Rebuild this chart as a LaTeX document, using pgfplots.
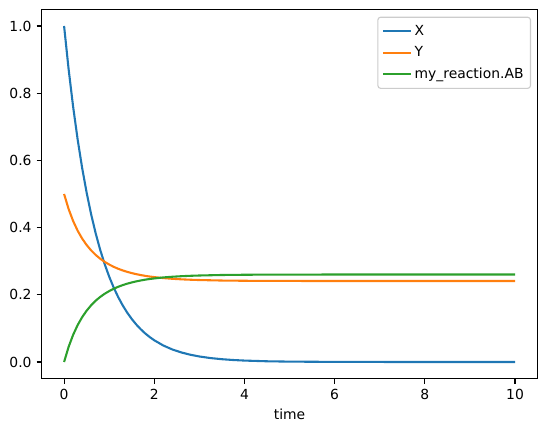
\documentclass[border=0pt]{standalone}
\usepackage{fontspec}
\setmainfont{DejaVu Sans}
\usepackage{pgfplots}
\pgfplotsset{compat=1.18}
\definecolor{c0}{HTML}{1F77B4}
\definecolor{c1}{HTML}{FF7F0E}
\definecolor{c2}{HTML}{2CA02C}
\begin{document}
\begin{tikzpicture}
\begin{axis}[
  scale only axis,
  width=357.1pt, height=266.1pt,
  xmin=-0.5, xmax=10.5, ymin=-0.05, ymax=1.05,
  axis line style={line width=0.8pt},
  tick style={line width=0.8pt, black},
  tick align=outside, major tick length=3.5pt,
  xtick={0,2,4,6,8,10}, xticklabels={0,2,4,6,8,10},
  ytick={0,0.2,0.4,0.6,0.8,1.0}, yticklabels={0.0,0.2,0.4,0.6,0.8,1.0},
  xtick pos=bottom, ytick pos=left,
  ticklabel style={font=\fontsize{10pt}{12pt}\selectfont},
  /pgf/number format/assume math mode=true,
  xticklabel style={inner sep=0pt, anchor=center, yshift=-8pt},
  yticklabel style={inner sep=0pt, anchor=east, xshift=-3.5pt},
  xlabel={time},
  xlabel style={at={(rel axis cs:0.5,0)}, anchor=center, yshift=-25.3pt, inner sep=0pt, font=\fontsize{10pt}{12pt}\selectfont},
  legend style={at={(rel axis cs:1,1)}, anchor=north east, xshift=-4.7pt, yshift=-5.4pt,
    draw=black!20, line width=0.8pt, rounded corners=2pt, fill=white, fill opacity=0.8, text opacity=1,
    font=\fontsize{10pt}{12pt}\selectfont,
    inner xsep=3pt, inner ysep=2.5pt,
    nodes={inner ysep=2pt, text height=8.7pt, text depth=2.7pt}},
  legend cell align=left,
  legend image code/.code={\draw[#1, line width=1.5pt] (0pt,0pt) -- (20pt,0pt);},
  clip=false,
]
\addplot[c0, line width=1.5pt] coordinates {
(0,1) (0.1,0.8720) (0.2,0.7604) (0.3,0.6630) (0.4,0.5781) (0.5,0.5041) (0.6,0.4396) (0.7,0.3833) (0.8,0.3342) (0.9,0.2914)
(1.0,0.2541) (1.1,0.2216) (1.2,0.1932) (1.3,0.1685) (1.4,0.1469) (1.5,0.1281) (1.6,0.1117) (1.7,0.0974) (1.8,0.0849) (1.9,0.0741)
(2.0,0.0646) (2.2,0.0491) (2.4,0.0373) (2.6,0.0284) (2.8,0.0216) (3.0,0.0164) (3.25,0.0116) (3.5,0.0083) (3.75,0.0059) (4.0,0.0042) (4.5,0.0021)
(5.0,0.0011) (6,0.0003) (7,0.0001) (8,0) (9,0) (10,0)};
\addlegendentry{X}
\addplot[c1, line width=1.5pt] coordinates {
(0,0.5) (0.1,0.4554) (0.2,0.4198) (0.3,0.3910) (0.4,0.3675) (0.5,0.3481) (0.6,0.3321) (0.7,0.3187) (0.8,0.3075) (0.9,0.2981)
(1.0,0.2901) (1.1,0.2832) (1.2,0.2774) (1.3,0.2725) (1.4,0.2682) (1.5,0.2646) (1.6,0.2614) (1.7,0.2587) (1.8,0.2563) (1.9,0.2543)
(2.0,0.2526) (2.2,0.2497) (2.4,0.2476) (2.6,0.2460) (2.8,0.2448) (3.0,0.2439) (3.5,0.2424) (4.0,0.2417) (4.5,0.2413)
(5.0,0.2412) (6,0.2410) (7,0.2410) (8,0.2410) (9,0.2410) (10,0.2410)};
\addlegendentry{Y}
\addplot[c2, line width=1.5pt] coordinates {
(0,0) (0.1,0.0448) (0.2,0.0806) (0.3,0.1096) (0.4,0.1332) (0.5,0.1527) (0.6,0.1688) (0.7,0.1823) (0.8,0.1935) (0.9,0.2030)
(1.0,0.2110) (1.1,0.2180) (1.2,0.2238) (1.3,0.2288) (1.4,0.2331) (1.5,0.2367) (1.6,0.2399) (1.7,0.2426) (1.8,0.2450) (1.9,0.2470)
(2.0,0.2487) (2.2,0.2516) (2.4,0.2537) (2.6,0.2553) (2.8,0.2565) (3.0,0.2574) (3.5,0.2589) (4.0,0.2596) (4.5,0.2600)
(5.0,0.2601) (6,0.2603) (7,0.2603) (8,0.2603) (9,0.2603) (10,0.2603)};
\addlegendentry{my\_reaction.AB}
\path (rel axis cs:0,0) coordinate (O) (rel axis cs:1,1) coordinate (TR);
\end{axis}
\pgfresetboundingbox
\path[use as bounding box] ([shift={(-29.9pt,-38.2pt)}]O) rectangle ([shift={(6.8pt,6.6pt)}]TR);
\end{tikzpicture}
\end{document}
